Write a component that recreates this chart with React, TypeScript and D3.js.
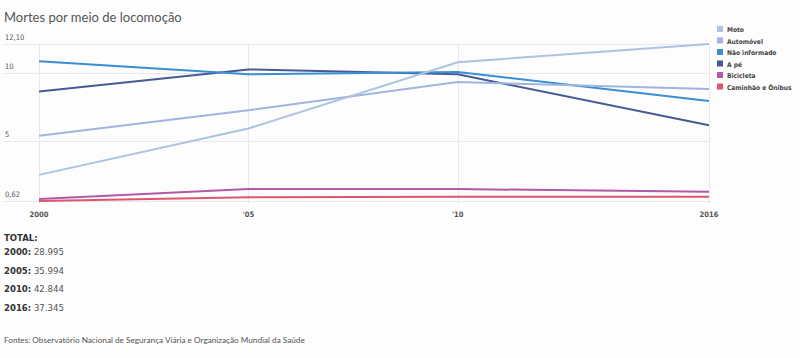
import React, { useEffect, useRef } from "react";
import * as d3 from "d3";

const WIDTH = 800;
const HEIGHT = 358;

const YEARS = [2000, 2005, 2010, 2016];
const X_TICK_LABELS = ["2000", "'05", "'10", "2016"];
const Y_TICKS = [0.62, 5, 10, 12.1];

const SERIES_NAMES = ["Moto", "Automóvel", "Não informado", "A pé", "Bicicleta", "Caminhão e Ônibus"];
const SERIES_COLORS = ["#aec2e2", "#9fb4e0", "#3b8ed4", "#475a96", "#b05aa8", "#de5570"];

const MOTO = [2.53, 5.92, 10.77, 12.1];
const AUTOMOVEL = [5.39, 7.26, 9.32, 8.81];
const NAO_INFORMADO = [10.84, 9.88, 10.05, 7.93];
const A_PE = [8.62, 10.24, 9.88, 6.16];
const BICICLETA = [0.77, 1.49, 1.49, 1.3];
const CAMINHAO = [0.62, 0.89, 0.93, 0.93];

const SERIES_VALUES = [MOTO, AUTOMOVEL, NAO_INFORMADO, A_PE, BICICLETA, CAMINHAO];

const TOTAL_YEARS = ["2000", "2005", "2010", "2016"];
const TOTAL_VALUES = ["28.995", "35.994", "42.844", "37.345"];

const FONT = "Lato, 'Open Sans', sans-serif";
const NARROW = "'DejaVu Sans Condensed', 'Liberation Sans Narrow', sans-serif";

export default function App() {
    const ref = useRef<SVGSVGElement>(null);

    useEffect(() => {
        const svg = d3.select(ref.current);
        svg.selectAll("*").remove();

        const x = d3.scaleLinear().domain([2000, 2016]).range([39, 709]);
        const y = d3.scaleLinear().domain([0.62, 12.1]).range([201, 44]);

        svg.append("rect").attr("width", WIDTH).attr("height", HEIGHT).attr("fill", "#fcfdfc");

        svg.append("text")
            .attr("x", 4).attr("y", 22)
            .attr("font-family", FONT).attr("font-size", 13)
            .attr("fill", "#555")
            .text("Mortes por meio de locomoção");

        // grid
        const grid = svg.append("g").attr("stroke", "#e9e8ef").attr("stroke-width", 1);
        grid.selectAll(".h").data(Y_TICKS).enter().append("line")
            .attr("x1", 4).attr("x2", 710)
            .attr("y1", d => Math.round(y(d)) + 0.5).attr("y2", d => Math.round(y(d)) + 0.5);
        grid.selectAll(".v").data(YEARS).enter().append("line")
            .attr("x1", d => Math.round(x(d)) + 0.5).attr("x2", d => Math.round(x(d)) + 0.5)
            .attr("y1", y(12.1)).attr("y2", y(0.62) + 3);

        svg.append("g").selectAll("text").data(Y_TICKS).enter().append("text")
            .attr("x", 5).attr("y", d => y(d) - 4)
            .attr("font-family", NARROW).attr("font-size", 7.5)
            .attr("fill", "#555")
            .text(d => d3.format(".2~f")(d).replace(".", ",").replace(/^12,1$/, "12,10"));

        svg.append("g").selectAll("text").data(YEARS).enter().append("text")
            .attr("x", d => x(d)).attr("y", 217)
            .attr("text-anchor", "middle")
            .attr("font-family", NARROW).attr("font-size", 7.5).attr("font-weight", "bold")
            .attr("fill", "#555")
            .text((d, i) => X_TICK_LABELS[i]);

        const line = d3.line<number>()
            .x((d, i) => x(YEARS[i]))
            .y(d => y(d));

        svg.append("g").attr("fill", "none")
            .selectAll("path")
            .data(SERIES_VALUES.map((v, i) => ({ v, i })).reverse())
            .enter().append("path")
            .attr("d", d => line(d.v))
            .attr("stroke", d => SERIES_COLORS[d.i])
            .attr("stroke-width", 2);

        // legend
        const legend = svg.append("g").selectAll("g").data(SERIES_NAMES).enter().append("g")
            .attr("transform", (d, i) => `translate(717,${26 + i * 11.5})`);
        legend.append("rect").attr("width", 6).attr("height", 6).attr("fill", (d, i) => SERIES_COLORS[i]);
        legend.append("text")
            .attr("x", 10).attr("y", 6)
            .attr("font-family", NARROW).attr("font-size", 6.6).attr("font-weight", "bold")
            .attr("fill", "#444")
            .text(d => d);

        // totals
        svg.append("text")
            .attr("x", 4).attr("y", 241)
            .attr("font-family", NARROW).attr("font-size", 9.5).attr("font-weight", "bold")
            .attr("fill", "#333")
            .text("TOTAL:");
        const tot = svg.append("g").selectAll("text").data(TOTAL_YEARS).enter().append("text")
            .attr("x", 4).attr("y", (d, i) => 255 + i * 18.7)
            .attr("font-family", NARROW).attr("font-size", 9.5)
            .attr("fill", "#333");
        tot.append("tspan").attr("font-weight", "bold").text(d => d + ":");
        tot.append("tspan").attr("fill", "#555").text((d, i) => " " + TOTAL_VALUES[i]);

        svg.append("text")
            .attr("x", 4).attr("y", 343)
            .attr("font-family", FONT).attr("font-size", 8.2)
            .attr("fill", "#555")
            .text("Fontes: Observatório Nacional de Segurança Viária e Organização Mundial da Saúde");
    }, []);

    return <svg ref={ref} width={WIDTH} height={HEIGHT}
                style={{ position: "absolute", left: 0, top: 0, display: "block" }} />;
}
